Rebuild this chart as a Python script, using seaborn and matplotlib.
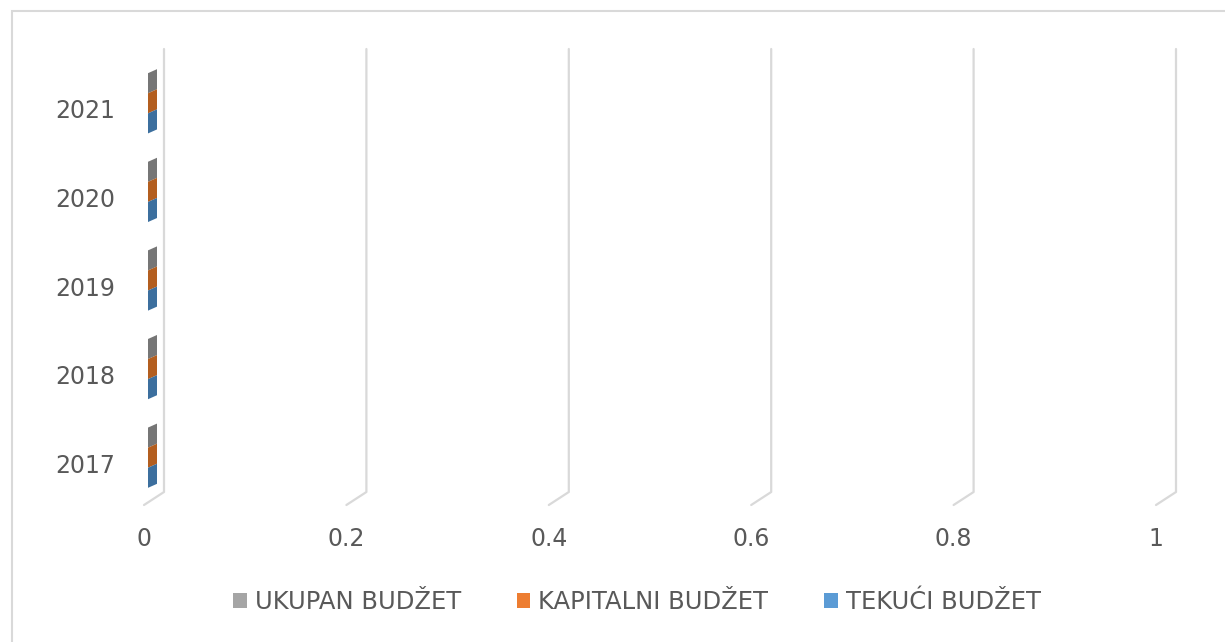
import matplotlib
matplotlib.use("Agg")
import matplotlib.pyplot as plt
from matplotlib.patches import Polygon, Rectangle, Patch
from matplotlib.lines import Line2D
from matplotlib.transforms import IdentityTransform, ScaledTranslation
import seaborn as sns
import pandas as pd

# ---- data ----
years = ["2021", "2020", "2019", "2018", "2017"]
series = ["UKUPAN BUDŽET", "KAPITALNI BUDŽET", "TEKUĆI BUDŽET"]
ukupan = [0, 0, 0, 0, 0]
kapitalni = [0, 0, 0, 0, 0]
tekuci = [0, 0, 0, 0, 0]
x_ticks = [0, 0.2, 0.4, 0.6, 0.8, 1.0]
x_tick_labels = ["0", "0.2", "0.4", "0.6", "0.8", "1"]

front_colors = ["#a5a5a5", "#ed7d31", "#5b9bd5"]
side_colors = ["#767676", "#b35e1f", "#3c6f9e"]
text_color = "#595959"
grid_color = "#d9d9d9"

rows = []
for s, vals in zip(series, [ukupan, kapitalni, tekuci]):
    for y, v in zip(years, vals):
        rows.append({"year": y, "series": s, "value": v})
df = pd.DataFrame(rows)

sns.set_theme(style="white")
plt.rcParams["font.family"] = ["DejaVu Sans"]

W, H = 1225, 642
fig = plt.figure(figsize=(W / 100, H / 100), dpi=100)
ax_left, ax_right, ax_bottom, ax_top = 144, 1156, 505, 62
ax = fig.add_axes([ax_left / W, 1 - ax_bottom / H,
                   (ax_right - ax_left) / W, (ax_bottom - ax_top) / H])

sns.barplot(data=df, y="year", x="value", hue="series", orient="h",
            order=years, hue_order=series, palette=front_colors,
            width=0.68, ax=ax, legend=False, errorbar=None)

ax.set_xlim(0, 1)
ax.set_ylim(len(years) - 0.5, -0.5)
ax.set_xticks(x_ticks)
ax.set_xticklabels(x_tick_labels)
ax.set_xlabel("")
ax.set_ylabel("")
ax.tick_params(axis="x", length=0, pad=16, labelsize=17, labelcolor=text_color)
ax.tick_params(axis="y", length=0, pad=20.5, labelsize=17, labelcolor=text_color)
shift = ScaledTranslation(0, -5 / 100, fig.dpi_scale_trans)
for lbl in ax.get_yticklabels():
    lbl.set_va("center")
    lbl.set_transform(lbl.get_transform() + shift)
for sp in ax.spines.values():
    sp.set_visible(False)
ax.grid(False)
ax.set_facecolor("none")

# 3D-style walls / gridlines (derived from the axis ticks)
dx_wall, dy_wall = 20, 13
top_y = H - 49
y0 = ax.bbox.y0
for t in x_ticks:
    X = ax.transData.transform((t, 0))[0]
    fig.add_artist(Line2D([X, X + dx_wall, X + dx_wall], [y0, y0 + dy_wall, top_y],
                          transform=IdentityTransform(), color=grid_color,
                          lw=1.6, zorder=0))

# side faces of the (zero-length) bars
for ci, cont in enumerate(ax.containers):
    for bar in cont:
        xe = bar.get_x() + bar.get_width()
        yt = bar.get_y()
        yb = bar.get_y() + bar.get_height()
        px, pyt = ax.transData.transform((xe, yt))
        _, pyb = ax.transData.transform((xe, yb))
        f = (4, 3)
        b = (13, 7)
        verts = [(px + f[0], pyt + f[1]), (px + b[0], pyt + b[1]),
                 (px + b[0], pyb + b[1]), (px + f[0], pyb + f[1])]
        fig.add_artist(Polygon(verts, closed=True, transform=IdentityTransform(),
                               facecolor=side_colors[ci], edgecolor="none", zorder=3))

# legend
handles = [Patch(facecolor=c, edgecolor="none") for c in front_colors]
fig.legend(handles, series, loc="center", bbox_to_anchor=(0.52, 1 - 602 / H),
           ncol=3, frameon=False, fontsize=17.5, labelcolor=text_color,
           handlelength=0.55, handleheight=0.6, handletextpad=0.33,
           columnspacing=2.3)

# chart border
fig.add_artist(Rectangle((12 / W, -0.1), 2, 1 - 11 / H + 0.1,
                         transform=fig.transFigure, facecolor="none",
                         edgecolor=grid_color, lw=1.5, zorder=0))

fig.savefig("out.png", dpi=100)
